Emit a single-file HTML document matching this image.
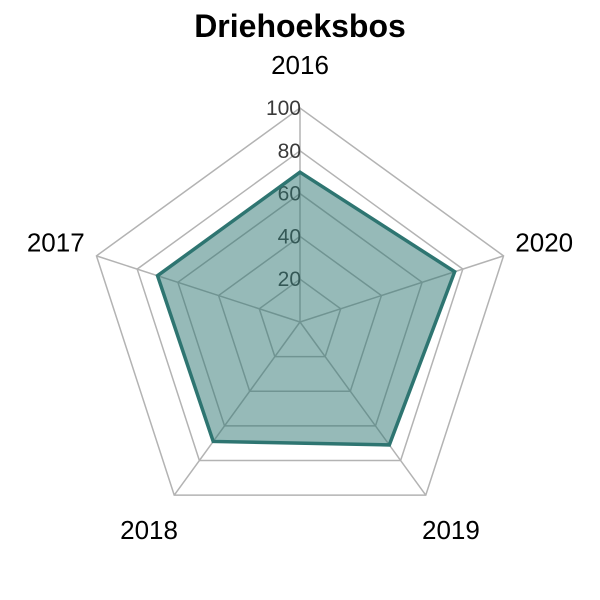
<!DOCTYPE html>
<html><head><meta charset="utf-8"><style>
html,body{margin:0;padding:0;background:#fff;}
svg{display:block;font-family:"Liberation Sans",Arial,sans-serif;}
</style></head><body>
<svg id="chart" width="600" height="600" viewBox="0 0 600 600">
<text x="300" y="37" text-anchor="middle" font-size="32" font-weight="bold" fill="#000">Driehoeksbos</text>
</svg>
<script>
const categories = ["2016","2017","2018","2019","2020"];
const values = [70, 70, 69, 71, 76];
const ringTicks = [20, 40, 60, 80, 100];
const maxValue = 100;

const NS = "http://www.w3.org/2000/svg";
const svg = document.getElementById("chart");
const cx = 300, cy = 322, R = 214;
function angle(i){ return -Math.PI/2 - i*2*Math.PI/categories.length; }
function pt(i, v){ const r = R*v/maxValue; return [cx + r*Math.cos(angle(i)), cy + r*Math.sin(angle(i))]; }
function mk(tag, attrs){ const e = document.createElementNS(NS, tag); for (const k in attrs) e.setAttribute(k, attrs[k]); svg.appendChild(e); return e; }

ringTicks.forEach(t => {
  const p = mk("polygon", {points: categories.map((c,i)=>pt(i,t).join(",")).join(" "), fill:"none", stroke:"#b3b3b3", "stroke-width":1.5});
  
  
});
categories.forEach((c,i) => {
  const [x,y] = pt(i, maxValue);
  const l = mk("line", {x1:cx, y1:cy, x2:x, y2:y, stroke:"#b3b3b3", "stroke-width":1.5});
  
  
});
ringTicks.forEach(t => {
  const y = cy - R*t/maxValue;
  const tx = mk("text", {x:301, y:y+7, "text-anchor":"end", "font-size":21, fill:"#3a3a3a"});
  tx.textContent = t;
  
  
});
categories.forEach((c,i) => {
  const [x,y] = pt(i, 120);
  const tx = mk("text", {x:x, y:y+9, "text-anchor":"middle", "font-size":26, fill:"#000"});
  tx.textContent = c;
  
  
});
const poly = mk("polygon", {points: values.map((v,i)=>pt(i,v).join(",")).join(" "), fill:"#2e7571", "fill-opacity":0.5, stroke:"#2e7571", "stroke-width":3.5, "stroke-linejoin":"miter"});


</script>
</body></html>
